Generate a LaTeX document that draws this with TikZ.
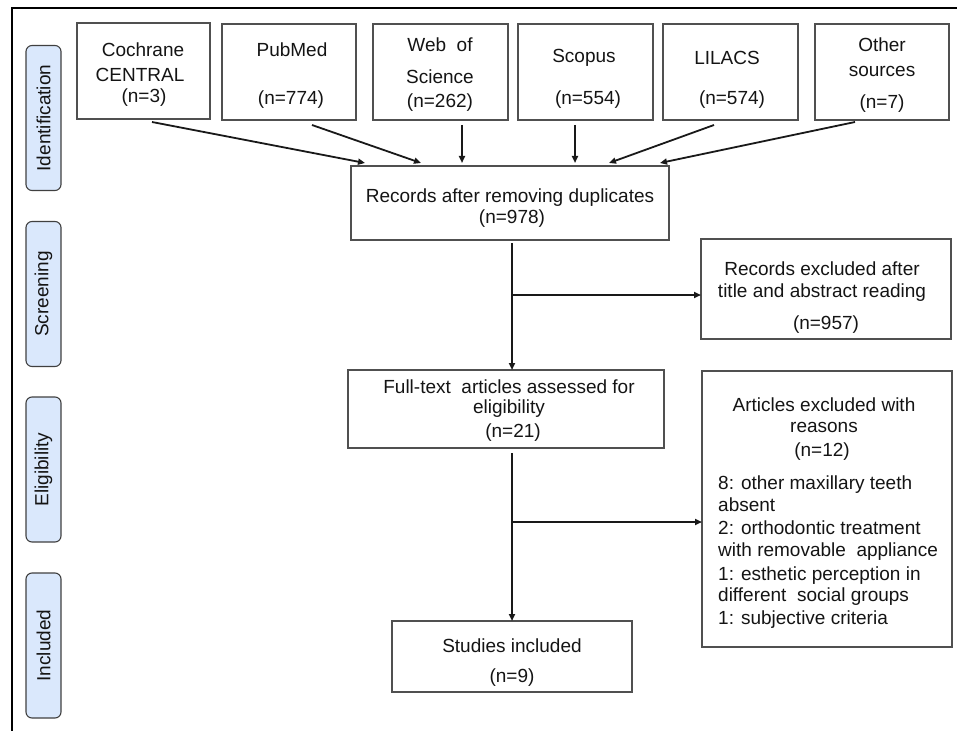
\documentclass[tikz,border=0pt]{standalone}
\usepackage{fontspec}
\setmainfont{Liberation Sans}
\usetikzlibrary{arrows.meta}
\definecolor{boxline}{HTML}{505050}
\definecolor{phasefill}{HTML}{DAE8FC}
\definecolor{txtcol}{HTML}{141414}
\tikzset{
  x=1pt, y=-1pt,
  box/.style={draw=boxline, line width=1.3pt, inner sep=0pt, outer sep=0pt},
  phase/.style={draw=black!75, fill=phasefill, line width=1.1pt, rounded corners=6pt,
    rotate=90, minimum width=145pt, minimum height=35pt, inner sep=0pt,
    font=\fontsize{19}{22}\selectfont, text=txtcol},
  txt/.style={inner sep=0pt, anchor=base, font=\fontsize{19}{22}\selectfont, text=txtcol},
  ltxt/.style={txt, anchor=base west},
  conn/.style={draw=black!90, line width=1.8pt, -{Triangle[length=7pt,width=6pt]}},
}
\begin{document}
\begin{tikzpicture}
\useasboundingbox (0,0) rectangle (957,730);
% outer frame (left and top)
\draw[line width=2.8pt] (12,732) -- (12,8) -- (960,8);

% phase labels
\node[phase] (pid) at (43.5,118) {Identification};
\node[phase] (psc) at (43.5,294) {Screening};
\node[phase] (pel) at (43.5,469.5) {Eligibility};
\node[phase] (pin) at (43.5,645.5) {Included};

% top source boxes
\node[box, minimum width=133pt, minimum height=96pt] (coch) at (143.5,71) {};
\node[box, minimum width=134pt, minimum height=96pt] (pub) at (289,72) {};
\node[box, minimum width=135pt, minimum height=96pt] (wos) at (440.5,72) {};
\node[box, minimum width=135pt, minimum height=96pt] (sco) at (585.5,72) {};
\node[box, minimum width=135pt, minimum height=96pt] (lil) at (730.5,72) {};
\node[box, minimum width=134pt, minimum height=96pt] (oth) at (882,72) {};

\node[txt] (coch1) at (143,57) {Cochrane};
\node[txt] (coch2) at (140,82) {CENTRAL};
\node[txt] (coch3) at (144,103) {(n=3)};
\node[txt] (pub1) at (292,57) {PubMed};
\node[txt] (pub2) at (291,105) {(n=774)};
\node[txt] (wos1) at (440,52) {Web~~of};
\node[txt] (wos2) at (440,84) {Science};
\node[txt] (wos3) at (440,108) {(n=262)};
\node[txt] (sco1) at (584,63) {Scopus};
\node[txt] (sco2) at (588,105) {(n=554)};
\node[txt] (lil1) at (727,65) {LILACS};
\node[txt] (lil2) at (732,105) {(n=574)};
\node[txt] (oth1) at (882,52) {Other};
\node[txt] (oth2) at (882,77) {sources};
\node[txt] (oth3) at (882,109) {(n=7)};

% records after duplicates
\node[box, minimum width=318pt, minimum height=74pt] (dup) at (510,203) {};
\node[txt] (dup1) at (510,202) {Records after removing duplicates};
\node[txt] (dup2) at (512,223) {(n=978)};

% records excluded
\node[box, minimum width=250pt, minimum height=100pt] (rex) at (826,289) {};
\node[txt] (rex1) at (822,275) {Records excluded after};
\node[txt] (rex2) at (822,297) {title and abstract reading};
\node[txt] (rex3) at (826,329) {(n=957)};

% full text
\node[box, minimum width=316pt, minimum height=78pt] (ft) at (506,409) {};
\node[txt] (ft1) at (509,393) {Full-text~~articles assessed for};
\node[txt] (ft2) at (509,413) {eligibility};
\node[txt] (ft3) at (513,437) {(n=21)};

% articles excluded
\node[box, minimum width=250pt, minimum height=276pt] (aex) at (827,509) {};
\node[txt] (aex1) at (824,411) {Articles excluded with};
\node[txt] (aex2) at (824,432) {reasons};
\node[txt] (aex3) at (822,456) {(n=12)};
\node[ltxt] (aex4) at (718,489) {8: other maxillary teeth};
\node[ltxt] (aex5) at (718,511) {absent};
\node[ltxt] (aex6) at (718,534) {2: orthodontic treatment};
\node[ltxt] (aex7) at (718,556) {with removable~~appliance};
\node[ltxt] (aex8) at (718,580) {1: esthetic perception in};
\node[ltxt] (aex9) at (718,601) {different~~social groups};
\node[ltxt] (aex10) at (718,624) {1: subjective criteria};

% studies included
\node[box, minimum width=240pt, minimum height=71pt] (inc) at (512,656.5) {};
\node[txt] (inc1) at (512,652) {Studies included};
\node[txt] (inc2) at (512,682) {(n=9)};

% connectors from sources
\coordinate (s1) at (152,122);
\coordinate (s2) at (312,125);
\coordinate (s3) at (462,125);
\coordinate (s4) at (575,125);
\coordinate (s5) at (714,125);
\coordinate (s6) at (855,122);
\draw[conn] (s1) -- (365,163);
\draw[conn] (s2) -- (421,163);
\draw[conn] (s3) -- (462,163);
\draw[conn] (s4) -- (575,163);
\draw[conn] (s5) -- (609,163);
\draw[conn] (s6) -- (660,163);

% main flow
\coordinate (v1) at (512,243);
\coordinate (b1) at (512,295);
\coordinate (v2) at (512,453);
\coordinate (b2) at (512,522);
\draw[conn] (v1) -- (v1 |- ft.north);
\draw[conn] (b1) -- (b1 -| rex.west);
\draw[conn] (v2) -- (v2 |- inc.north);
\draw[conn] (b2) -- (b2 -| aex.west);
\end{tikzpicture}
\end{document}
